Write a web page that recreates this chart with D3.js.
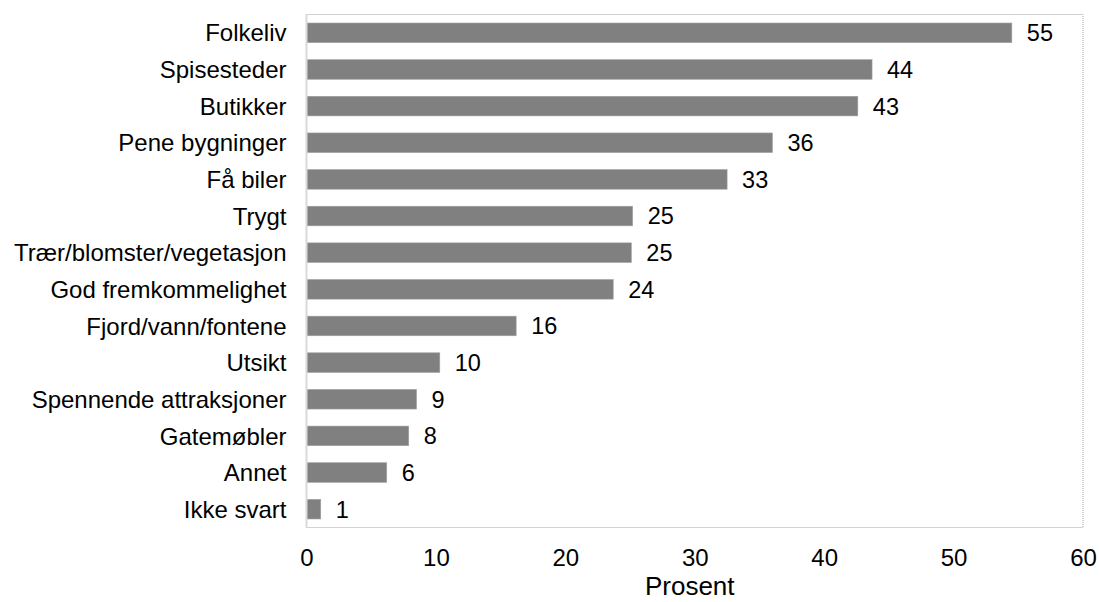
<!DOCTYPE html>
<html><head><meta charset="utf-8">
<script src="https://cdn.jsdelivr.net/npm/d3@7"></script>
<style>body{margin:0;background:#fff}text{font-family:"Liberation Sans",Arial,sans-serif;fill:#000}</style>
</head><body><svg id="c" width="1099" height="602"></svg>
<script>
const categories = ["Folkeliv","Spisesteder","Butikker","Pene bygninger","Få biler","Trygt","Trær/blomster/vegetasjon","God fremkommelighet","Fjord/vann/fontene","Utsikt","Spennende attraksjoner","Gatemøbler","Annet","Ikke svart"];
const values = [54.5,43.7,42.6,36.0,32.5,25.2,25.1,23.7,16.2,10.3,8.5,7.9,6.2,1.1];
const labels = ["55","44","43","36","33","25","25","24","16","10","9","8","6","1"];
const xTicks = [0,10,20,30,40,50,60];
const xTitle = "Prosent";

const svg = d3.select("#c");
const L = 306.5, R = 1083, T = 14.5, B = 527.5;
const x = d3.scaleLinear().domain([0,60]).range([L,R]);
const y = d3.scaleBand().domain(categories).range([T,B]).paddingInner(0.465).paddingOuter(0.2325);

svg.append("rect").attr("x",L).attr("y",T).attr("width",R-L).attr("height",B-T)
  .attr("fill","none").attr("stroke","#a6a6a6").attr("stroke-width",1).attr("stroke-dasharray","1,1");

svg.selectAll("rect.bar").data(categories).join("rect").attr("class","bar")
  .attr("x",x(0)).attr("y",d=>y(d)).attr("width",(d,i)=>x(values[i])-x(0)).attr("height",y.bandwidth())
  .attr("fill","#808080").attr("stroke","#a0a0a0").attr("stroke-width",0.6);

svg.append("line").attr("x1",L).attr("x2",L).attr("y1",T).attr("y2",B).attr("stroke","#d9d9d9").attr("stroke-width",2);

svg.selectAll("text.val").data(categories).join("text").attr("class","val")
  .attr("x",(d,i)=>x(values[i])+15).attr("y",d=>y(d)+y.bandwidth()/2).attr("dy","0.36em")
  .attr("font-size",23.5).text((d,i)=>labels[i]);

const yAxis = svg.append("g").attr("transform",`translate(${L},0)`).call(d3.axisLeft(y).tickSize(0).tickPadding(20));
yAxis.select(".domain").remove();
yAxis.selectAll("text").attr("font-size",24).attr("dy","0.36em").style("font-family","Liberation Sans, Arial, sans-serif").attr("fill","#000");

const xAxis = svg.append("g").attr("transform",`translate(0,${B})`).call(d3.axisBottom(x).tickValues(xTicks).tickSize(0).tickPadding(21));
xAxis.select(".domain").remove();
xAxis.selectAll("text").attr("font-size",24).style("font-family","Liberation Sans, Arial, sans-serif").attr("fill","#000");

svg.append("text").attr("x",(L+R)/2 - 5).attr("y",595).attr("text-anchor","middle").attr("font-size",26).text(xTitle);
</script></body></html>
